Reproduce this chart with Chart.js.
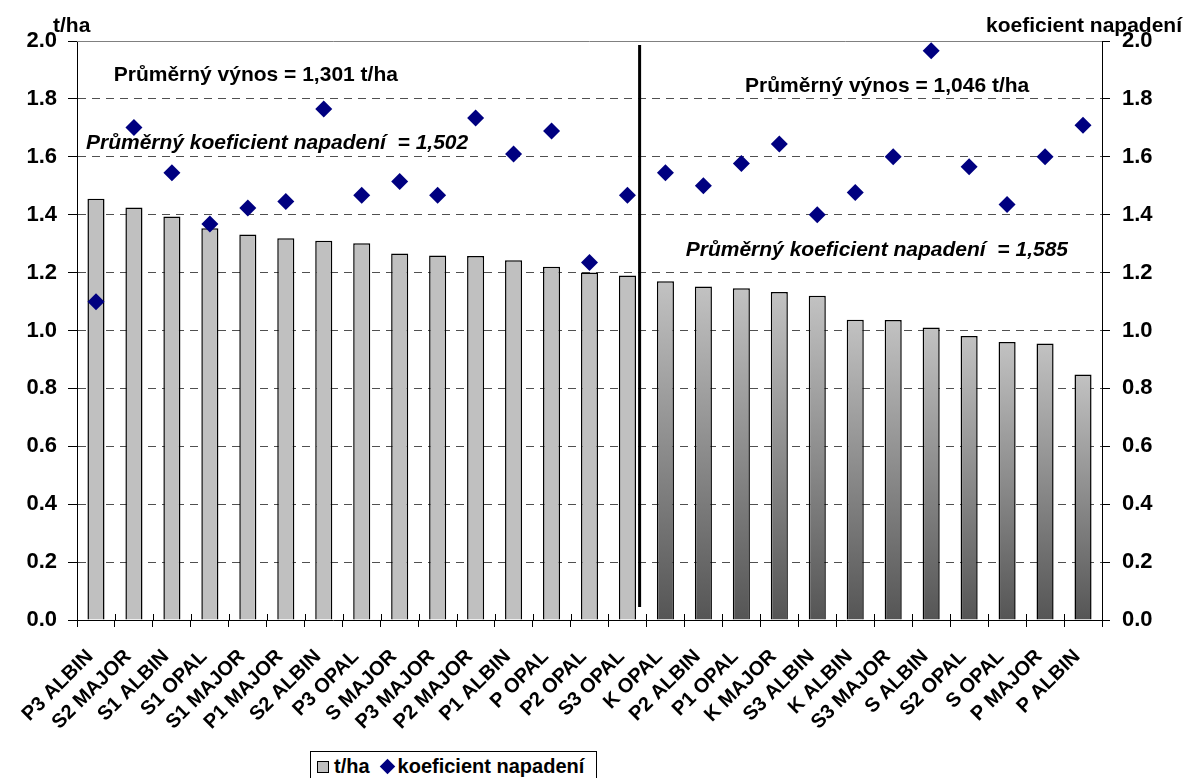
<!DOCTYPE html>
<html>
<head>
<meta charset="utf-8">
<script src="https://cdn.jsdelivr.net/npm/chart.js@4.4.1/dist/chart.umd.min.js"></script>
<style>
  html, body { margin: 0; padding: 0; background: #fff; overflow: hidden; }
  #wrap { position: relative; width: 1185px; height: 778px; overflow: hidden; font-family: "Liberation Sans", Arial, sans-serif; }
  #legend {
    position: absolute; left: 310px; top: 751px; height: 32px; width: 287px;
    border: 1px solid #000; box-sizing: border-box; background: #fff;
    font-weight: bold; font-size: 20px; display: flex; align-items: flex-start; padding: 3px 0 0 6px;
  }
  .sq { width: 10px; height: 10px; background: #c0c0c0; border: 1px solid #000; margin: 6px 5px 0 0; }
  .dia { width: 11px; height: 11px; background: #000080; transform: rotate(45deg); margin: 6px 5px 0 12px; }
</style>
</head>
<body>
<div id="wrap">
  <canvas id="chart" width="1185" height="778"></canvas>
  <div id="legend"><span class="sq"></span>t/ha<span class="dia"></span>koeficient napadení</div>
</div>
<script>
const categories = [
  "P3 ALBIN", "S2 MAJOR", "S1 ALBIN", "S1 OPAL", "S1 MAJOR", "P1 MAJOR", "S2 ALBIN", "P3 OPAL",
  "S MAJOR", "P3 MAJOR", "P2 MAJOR", "P1 ALBIN", "P OPAL", "P2 OPAL", "S3 OPAL",
  "K OPAL", "P2 ALBIN", "P1 OPAL", "K MAJOR", "S3 ALBIN", "K ALBIN", "S3 MAJOR", "S ALBIN",
  "S2 OPAL", "S OPAL", "P MAJOR", "P ALBIN"
];
const vynos = [
  1.455, 1.425, 1.394, 1.353, 1.332, 1.319, 1.310, 1.301, 1.266, 1.259, 1.257, 1.243, 1.220, 1.200, 1.190,
  1.170, 1.152, 1.146, 1.133, 1.120, 1.037, 1.036, 1.010, 0.981, 0.960, 0.955, 0.848
];
const koeficient = [
  1.099, 1.701, 1.545, 1.368, 1.423, 1.446, 1.765, 1.467, 1.515, 1.467, 1.734, 1.610, 1.689, 1.235, 1.467,
  1.545, 1.500, 1.577, 1.644, 1.400, 1.477, 1.600, 1.966, 1.566, 1.435, 1.600, 1.709
];
const splitIndex = 15;

const notes = [
  { text: "Průměrný výnos = 1,301 t/ha", x: 4.21, y: 1.883, font: "bold 21px 'Liberation Sans', Arial" },
  { text: "Průměrný koeficient napadení  = 1,502", x: 4.77, y: 1.648, font: "italic bold 21px 'Liberation Sans', Arial" },
  { text: "Průměrný výnos = 1,046 t/ha", x: 20.84, y: 1.845, font: "bold 21px 'Liberation Sans', Arial" },
  { text: "Průměrný koeficient napadení  = 1,585", x: 20.57, y: 1.278, font: "italic bold 21px 'Liberation Sans', Arial" }
];

const extras = {
  id: "extras",
  afterDatasetsDraw(chart) {
    const { ctx, chartArea, scales } = chart;
    const x = scales.x, y = scales.y;
    ctx.save();
    // top border of plot area
    ctx.strokeStyle = "#808080";
    ctx.lineWidth = 1;
    ctx.beginPath();
    ctx.moveTo(chartArea.left, chartArea.top + 0.5);
    ctx.lineTo(chartArea.right, chartArea.top + 0.5);
    ctx.stroke();
    // small tick marks crossing the x axis upwards
    ctx.strokeStyle = "#000";
    for (let i = 1; i < categories.length; i++) {
      const bx = Math.round((x.getPixelForValue(i - 1) + x.getPixelForValue(i)) / 2) + 0.5;
      ctx.beginPath();
      ctx.moveTo(bx, chartArea.bottom);
      ctx.lineTo(bx, chartArea.bottom - 6);
      ctx.stroke();
    }
    // separator between the two groups
    const p0 = x.getPixelForValue(splitIndex - 1), p1 = x.getPixelForValue(splitIndex);
    const sx = p0 + 0.32 * (p1 - p0);
    ctx.lineWidth = 3;
    ctx.beginPath();
    ctx.moveTo(sx, y.getPixelForValue(1.986));
    ctx.lineTo(sx, y.getPixelForValue(0.045));
    ctx.stroke();
    // notes
    ctx.fillStyle = "#000";
    ctx.textAlign = "center";
    ctx.textBaseline = "middle";
    notes.forEach(n => {
      ctx.font = n.font;
      const i = Math.floor(n.x);
      const px = x.getPixelForValue(i) + (n.x - i) * (p1 - p0);
      ctx.fillText(n.text, px, y.getPixelForValue(n.y));
    });
    // axis titles
    ctx.font = "bold 21px 'Liberation Sans', Arial";
    ctx.textBaseline = "alphabetic";
    ctx.textAlign = "left";
    ctx.fillText("t/ha", 53, 32);
    ctx.textAlign = "right";
    ctx.fillText("koeficient napadení", 1182, 32);
    ctx.restore();
  }
};

const isEdge = v => Math.abs(v) < 1e-6 || Math.abs(v - 2) < 1e-6;
const tickFont = { family: "'Liberation Sans', Arial", size: 22, weight: "bold" };

new Chart(document.getElementById("chart").getContext("2d"), {
  type: "bar",
  data: {
    labels: categories,
    datasets: [
      {
        type: "line",
        label: "koeficient napadení",
        data: koeficient,
        yAxisID: "y2",
        showLine: false,
        pointStyle: "rectRot",
        pointRadius: 8.5,
        pointBackgroundColor: "#000080",
        pointBorderColor: "#000080",
        pointBorderWidth: 0,
        order: 0
      },
      {
        label: "t/ha",
        data: vynos,
        yAxisID: "y",
        borderColor: "#000",
        borderWidth: 1.5,
        borderSkipped: "bottom",
        barPercentage: 0.45,
        categoryPercentage: 1,
        order: 1,
        backgroundColor: (c) => {
          if (c.dataIndex < splitIndex) return "#c0c0c0";
          const chart = c.chart, y = chart.scales.y;
          if (!chart.chartArea || !y) return "#8a8a8a";
          const top = y.getPixelForValue(c.raw), bottom = y.getPixelForValue(0);
          const g = chart.ctx.createLinearGradient(0, top, 0, bottom);
          g.addColorStop(0, "#c2c2c2");
          g.addColorStop(1, "#555555");
          return g;
        }
      }
    ]
  },
  options: {
    responsive: false,
    animation: false,
    devicePixelRatio: 1,
    layout: { padding: { top: 41, left: 0, right: 0, bottom: 0 } },
    plugins: { legend: { display: false }, tooltip: { enabled: false } },
    scales: {
      x: {
        offset: true,
        grid: { display: true, drawOnChartArea: false, tickLength: 7, color: "#000", offset: true },
        border: { color: "#000", width: 1 },
        ticks: {
          minRotation: 45, maxRotation: 45, autoSkip: false, color: "#000", padding: 18, labelOffset: -6,
          font: { family: "'Liberation Sans', Arial", size: 20, weight: "bold" }
        },
        afterFit: (s) => { s.height = 158; }
      },
      y: {
        position: "left",
        min: 0, max: 2,
        ticks: { stepSize: 0.2, color: "#000", padding: 11, font: tickFont, callback: v => v.toFixed(1) },
        grid: {
          color: c => isEdge(c.tick.value) ? "rgba(0,0,0,0)" : "#505050",
          tickColor: "#000", tickLength: 9
        },
        border: { color: "#000", width: 1, dash: [8, 6] },
        afterFit: (s) => { s.width = 77; }
      },
      y2: {
        position: "right",
        min: 0, max: 2,
        ticks: { stepSize: 0.2, color: "#000", padding: 12, font: tickFont, callback: v => v.toFixed(1) },
        grid: { drawOnChartArea: false, tickColor: "#000", tickLength: 8 },
        border: { color: "#000", width: 1 },
        afterFit: (s) => { s.width = 83; }
      }
    }
  },
  plugins: [extras]
});
</script>
</body>
</html>
